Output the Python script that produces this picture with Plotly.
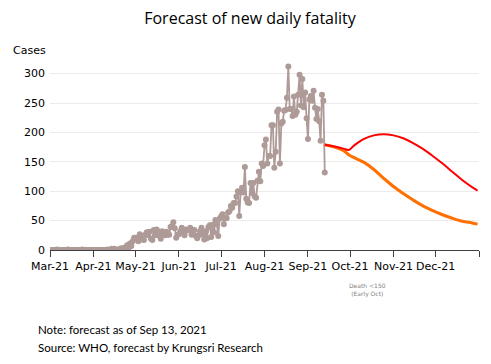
import pandas as pd
import plotly.graph_objects as go

# ---------------- data ----------------
hist_start = "2021-03-01"
mar = [0,0,0,0,0,1,0,0,0,0,0,0,0,1,0,0,0,0,0,0,0,0,0,1,0,0,0,0,0,0,0]
apr = [0,0,0,0,0,0,0,0,0,0,1,0,0,2,0,2,0,0,1,2,3,2,4,4,8,3,11,7,15,21]
may = [21,20,15,27,18,24,17,26,30,25,31,19,17,34,25,35,25,31,19,32,28,25,31,26,26,39,41,47,37,21,26]
jun = [27,32,38,30,25,35,33,34,38,26,34,34,24,20,25,32,38,26,18,32,20,39,42,22,43,30,51,44,24,53]
jul = [57,61,44,54,54,64,66,75,72,80,80,91,100,58,98,106,98,141,87,81,80,114,97,114,91,89,118,133,117,147,143]
aug = [178,188,147,160,160,212,212,140,167,235,239,147,215,218,237,238,259,312,240,240,228,261,230,235,264,298,246,291,243,268,224]
sep = [189,256,262,254,271,242,223,240,219,186,264,254,132]
hist_values = mar + apr + may + jun + jul + aug + sep
hist_dates = pd.date_range(hist_start, periods=len(hist_values), freq="D")

fc_dates = ["2021-09-13","2021-09-20","2021-09-27","2021-09-30","2021-10-04","2021-10-11",
            "2021-10-18","2021-10-25","2021-11-01","2021-11-08","2021-11-15","2021-11-22",
            "2021-11-29","2021-12-06","2021-12-13","2021-12-20","2021-12-27","2021-12-31"]
fc_high = [179,176,172,170,178,189,195,197,195,190,182,172,160,147,133,119,107,101]
fc_low  = [179,175,168,162,157,149,137,122,108,96,85,75,67,60,54,49,46,44]

tick_dates = ["2021-03-01","2021-04-01","2021-05-01","2021-06-01","2021-07-01","2021-08-01",
              "2021-09-01","2021-10-01","2021-11-01","2021-12-01","2022-01-01"]
tick_labels = ["Mar-21","Apr-21","May-21","Jun-21","Jul-21","Aug-21",
               "Sep-21","Oct-21","Nov-21","Dec-21",""]
y_ticks = [0, 50, 100, 150, 200, 250, 300]

# ---------------- figure ----------------
fig = go.Figure()
fig.add_trace(go.Scatter(
    x=hist_dates, y=hist_values, mode="lines+markers",
    line=dict(color="#AE9A97", width=1.8),
    marker=dict(color="#AE9A97", size=6),
    showlegend=False))
fig.add_trace(go.Scatter(
    x=fc_dates, y=fc_low, mode="lines", line_shape="spline",
    line=dict(color="#FF7000", width=3), showlegend=False))
fig.add_trace(go.Scatter(
    x=fc_dates, y=fc_high, mode="lines", line_shape="spline",
    line=dict(color="#FF0000", width=2), showlegend=False))

W, H = 483, 356
fig.update_layout(
    width=W, height=H,
    margin=dict(l=42, r=12, t=48, b=114),
    paper_bgcolor="white", plot_bgcolor="white",
    title=dict(text="Forecast of new daily fatality", x=242 / W, xref="container",
               xanchor="center",
               y=1 - 10 / H, yref="container", yanchor="middle",
               font=dict(family="Open Sans", size=16, color="#000000")),
    xaxis=dict(type="date", range=["2021-03-01", "2022-01-01"],
               tickvals=tick_dates, ticktext=tick_labels,
               ticks="outside", ticklen=6, tickcolor="#404040",
               showline=True, linecolor="#404040", linewidth=1,
               showgrid=False, zeroline=False,
               tickfont=dict(family="DejaVu Sans", size=11, color="#000000")),
    yaxis=dict(range=[0, 330], tickvals=y_ticks,
               showgrid=True, gridcolor="#EBEBEB", gridwidth=1,
               zeroline=False, showline=False, ticks="",
               ticklabelstandoff=4,
               tickfont=dict(family="DejaVu Sans", size=11, color="#000000")),
)

fig.add_annotation(text="Cases", xref="paper", yref="paper", x=-0.005, y=1.026,
                   xanchor="right", yanchor="middle", showarrow=False,
                   font=dict(family="DejaVu Sans", size=11, color="#000000"))
fig.add_annotation(text="Death <150<br>(Early Oct)", xref="paper", yref="paper",
                   x=0.739, y=-0.206, xanchor="center", yanchor="middle", showarrow=False,
                   font=dict(family="DejaVu Sans", size=6, color="#7F7F7F"))
fig.add_annotation(text="Note: forecast as of Sep 13, 2021", xref="paper", yref="paper",
                   x=-0.0326, y=-0.412, xanchor="left", yanchor="middle", showarrow=False,
                   font=dict(family="Lato", size=11.5, color="#000000"))
fig.add_annotation(text="Source: WHO, forecast by Krungsri Research", xref="paper", yref="paper",
                   x=-0.0326, y=-0.505, xanchor="left", yanchor="middle", showarrow=False,
                   font=dict(family="Lato", size=11.5, color="#000000"))

fig.write_html("out.html")
